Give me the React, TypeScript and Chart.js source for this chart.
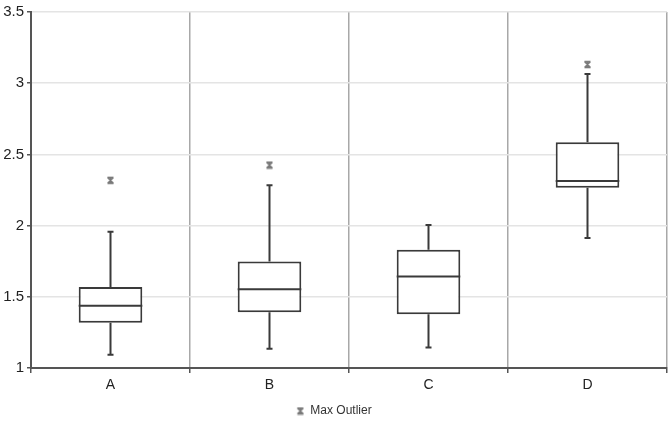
import React, { useEffect, useRef } from "react";
import { Chart, registerables } from "chart.js";

Chart.register(...registerables);

const categories = ["A", "B", "C", "D"];
const q1Values = [1.318, 1.391, 1.377, 2.266];
const medianValues = [1.437, 1.553, 1.642, 2.313];
const q3Values = [1.569, 1.748, 1.83, 2.585];
const minValues = [1.093, 1.135, 1.144, 1.913];
const maxValues = [1.957, 2.283, 2.004, 3.064];
const outlierValues: (number | null)[] = [2.318, 2.425, null, 3.131];
const yTicks = [1, 1.5, 2, 2.5, 3, 3.5];

const FONT = "'Liberation Sans', Arial, sans-serif";

function makeMarker(): HTMLCanvasElement {
  const c = document.createElement("canvas");
  c.width = 9;
  c.height = 9;
  const g = c.getContext("2d")!;
  g.strokeStyle = "#7a7a7a";
  g.lineWidth = 1.5;
  g.beginPath();
  g.moveTo(1.5, 1.5);
  g.lineTo(7.5, 1.5);
  g.moveTo(1.5, 7.5);
  g.lineTo(7.5, 7.5);
  g.moveTo(1.5, 1.5);
  g.lineTo(7.5, 7.5);
  g.moveTo(7.5, 1.5);
  g.lineTo(1.5, 7.5);
  g.moveTo(4.5, 1.5);
  g.lineTo(4.5, 7.5);
  g.stroke();
  return c;
}

const boxPlugin = {
  id: "boxWhiskers",
  afterDatasetsDraw(chart: any) {
    const { ctx, scales } = chart;
    const xs = scales.x;
    const ys = scales.y;
    const meta = chart.getDatasetMeta(0);
    ctx.save();
    ctx.strokeStyle = "#3a3a3a";
    ctx.lineWidth = 2;
    categories.forEach((_, i) => {
      const x = xs.getPixelForValue(i);
      const bar = meta.data[i];
      const half = bar ? bar.width / 2 : 30;
      const yMin = ys.getPixelForValue(minValues[i]);
      const yMax = ys.getPixelForValue(maxValues[i]);
      const yQ1 = ys.getPixelForValue(q1Values[i]);
      const yQ3 = ys.getPixelForValue(q3Values[i]);
      const yMed = ys.getPixelForValue(medianValues[i]);
      ctx.beginPath();
      ctx.moveTo(x, yQ1);
      ctx.lineTo(x, yMin);
      ctx.moveTo(x, yQ3);
      ctx.lineTo(x, yMax);
      ctx.moveTo(x - 3, yMin);
      ctx.lineTo(x + 3, yMin);
      ctx.moveTo(x - 3, yMax);
      ctx.lineTo(x + 3, yMax);
      ctx.moveTo(x - half, yMed);
      ctx.lineTo(x + half, yMed);
      ctx.stroke();
    });
    ctx.restore();
  },
};

export default function App() {
  const ref = useRef<HTMLCanvasElement>(null);
  useEffect(() => {
    document.body.style.margin = "0";
    const marker = makeMarker();
    const chart = new Chart(ref.current!, {
      type: "bar",
      data: {
        labels: categories,
        datasets: [
          {
            type: "bar",
            label: "Box",
            data: categories.map((_, i) => [q1Values[i], q3Values[i]]) as any,
            backgroundColor: "#ffffff",
            borderColor: "#3a3a3a",
            borderWidth: 2,
            borderSkipped: false,
            categoryPercentage: 1,
            barPercentage: 0.4,
            order: 2,
          },
          {
            type: "line",
            label: "Max Outlier",
            data: outlierValues as any,
            showLine: false,
            pointStyle: marker as any,
            pointRadius: 4,
            borderColor: "#7a7a7a",
            backgroundColor: "#7a7a7a",
            order: 1,
          },
        ],
      },
      options: {
        animation: false,
        responsive: false,
        maintainAspectRatio: false,
        layout: { padding: { top: 9, right: 4, left: 0, bottom: -4 } },
        plugins: {
          legend: {
            position: "bottom",
            labels: {
              filter: (item: any) => item.text === "Max Outlier",
              usePointStyle: true,
              boxWidth: 8,
              boxHeight: 8,
              color: "#333",
              font: { family: FONT, size: 12 },
              padding: 3,
            },
          },
          tooltip: { enabled: false },
        },
        scales: {
          x: {
            grid: {
              offset: true,
              color: "#a8a8a8",
              lineWidth: 1.5,
              tickColor: "#555",
              tickLength: 5,
            },
            border: { color: "#555", width: 2 },
            ticks: { color: "#222", font: { family: FONT, size: 14 }, padding: 4 },
            afterFit: (s: any) => {
              s.height = 34;
            },
          },
          y: {
            min: 1,
            max: 3.5,
            afterBuildTicks: (s: any) => {
              s.ticks = yTicks.map((v) => ({ value: v }));
            },
            grid: {
              color: "#e4e4e4",
              lineWidth: 1.5,
              tickColor: "#555",
              tickLength: 4,
            },
            border: { color: "#555", width: 2 },
            ticks: {
              color: "#222",
              font: { family: FONT, size: 15 },
              padding: 3,
              callback: (v: any) => String(v),
            },
            afterFit: (s: any) => {
              s.width = 31;
            },
          },
        },
      },
      plugins: [boxPlugin],
    });
    return () => chart.destroy();
  }, []);
  return (
    <div style={{ width: 672, height: 423 }}>
      <canvas ref={ref} width={672} height={423} style={{ display: "block" }} />
    </div>
  );
}
